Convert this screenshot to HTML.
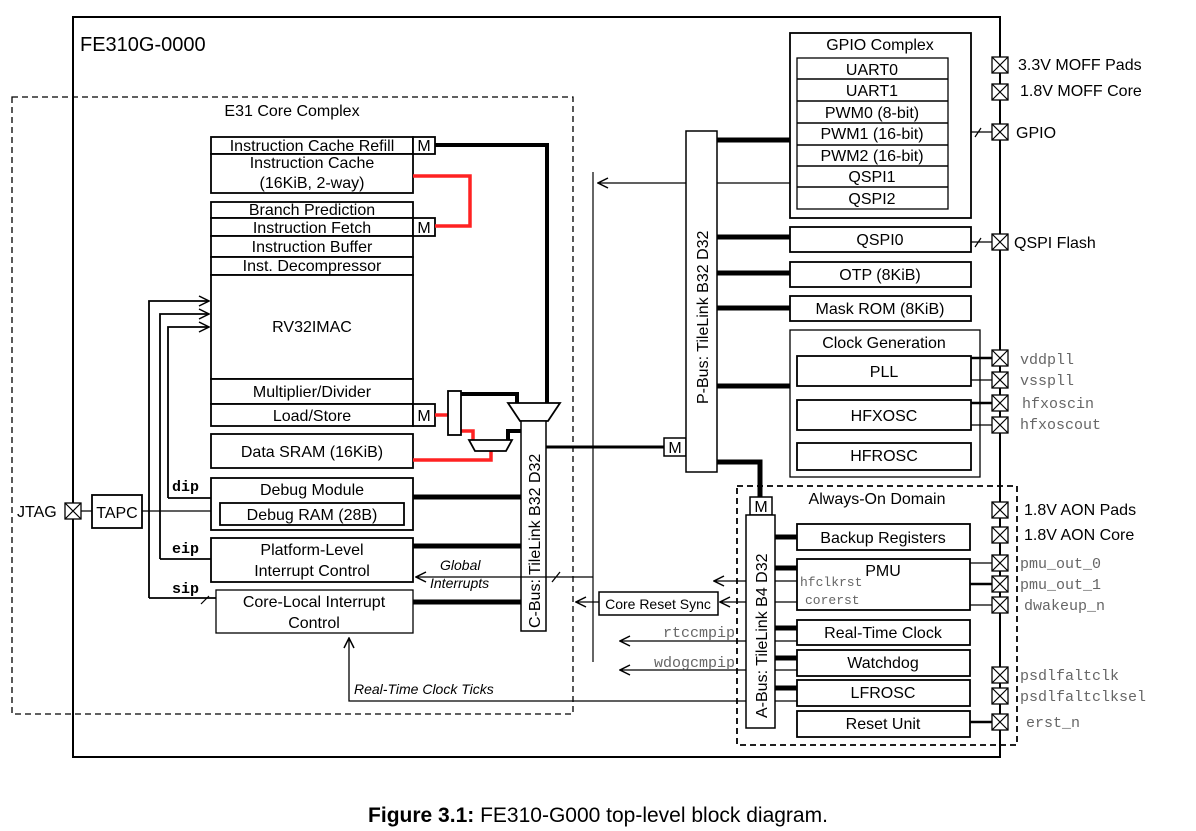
<!DOCTYPE html>
<html><head><meta charset="utf-8"><style>
html,body{margin:0;padding:0;background:#fff;}
svg{display:block;font-family:"Liberation Sans",sans-serif;}
.m{font-family:"Liberation Mono",monospace;fill:#666;}
</style></head><body>
<svg width="1196" height="831" viewBox="0 0 1196 831" xmlns="http://www.w3.org/2000/svg">
<defs>
<marker id="a" markerWidth="12" markerHeight="12" refX="11" refY="6" orient="auto" markerUnits="userSpaceOnUse">
<path d="M1,1 L11,6 L1,11" fill="none" stroke="#000" stroke-width="1.5"/></marker>
<g id="pad"><rect x="-8" y="-8" width="16" height="16" fill="#fff" stroke="#000" stroke-width="1.3"/><path d="M-8,-8L8,8M8,-8L-8,8" stroke="#000" stroke-width="1.2"/></g>
</defs>
<g fill="none" stroke="#000">
<rect x="73" y="17" width="927" height="740" stroke-width="2"/>
<rect x="12" y="97" width="561" height="617" stroke-dasharray="6,4" stroke-width="1.3"/>
<rect x="737" y="486" width="280" height="259" stroke-dasharray="6,4" stroke-width="1.8"/>
</g>
<text x="80" y="51" font-size="20">FE310G-0000</text>
<text x="292" y="116" font-size="16" text-anchor="middle">E31 Core Complex</text>

<g fill="#fff" stroke="#000" stroke-width="1.8">
<rect x="211" y="137" width="202" height="17"/><rect x="413" y="137" width="22" height="17"/>
<rect x="211" y="154" width="202" height="39"/>
<rect x="211" y="202" width="202" height="16"/>
<rect x="211" y="218" width="202" height="18"/><rect x="413" y="218" width="22" height="18"/>
<rect x="211" y="236" width="202" height="21"/>
<rect x="211" y="257" width="202" height="18"/>
<rect x="211" y="275" width="202" height="104"/>
<rect x="211" y="379" width="202" height="25"/>
<rect x="211" y="404" width="202" height="22"/><rect x="413" y="404" width="22" height="22"/>
<rect x="211" y="434" width="202" height="34"/>
<rect x="211" y="478" width="202" height="52"/>
<rect x="220" y="503" width="184" height="22"/>
<rect x="211" y="538" width="202" height="44"/>
<rect x="216" y="590" width="197" height="43" stroke-width="1.3"/>
</g>
<g font-size="16" text-anchor="middle">
<text x="312" y="151">Instruction Cache Refill</text><text x="424" y="151">M</text>
<text x="312" y="168">Instruction Cache</text><text x="312" y="188">(16KiB, 2-way)</text>
<text x="312" y="215">Branch Prediction</text>
<text x="312" y="233">Instruction Fetch</text><text x="424" y="233">M</text>
<text x="312" y="252">Instruction Buffer</text>
<text x="312" y="271">Inst. Decompressor</text>
<text x="312" y="332">RV32IMAC</text>
<text x="312" y="397">Multiplier/Divider</text>
<text x="312" y="421">Load/Store</text><text x="424" y="421">M</text>
<text x="312" y="457">Data SRAM (16KiB)</text>
<text x="312" y="495">Debug Module</text>
<text x="312" y="520">Debug RAM (28B)</text>
<text x="312" y="555">Platform-Level</text><text x="312" y="576">Interrupt Control</text>
<text x="314" y="607">Core-Local Interrupt</text><text x="314" y="628">Control</text>
</g>

<g fill="none" stroke="#f22" stroke-width="3.5">
<path d="M413,176 H470 V226 H435"/>
<path d="M435,415 H448"/>
<path d="M461,431 H473 V441"/>
<path d="M413,460 H491 V451"/>
</g>
<g fill="none" stroke="#000" stroke-width="4">
<path d="M435,145 H547 V404"/>
<path d="M461,394 H517 V404"/>
<path d="M508,440 V431 H522"/>
</g>
<rect x="448" y="391" width="13" height="44" fill="#fff" stroke="#000" stroke-width="1.8"/>
<path d="M508,403 H560 L548,421 H520 Z" fill="#fff" stroke="#000" stroke-width="1.8"/>
<path d="M469,440 H512 L506,451 H475 Z" fill="#fff" stroke="#000" stroke-width="1.8"/>

<rect x="521" y="421" width="25" height="210" fill="#fff" stroke="#000" stroke-width="1.5"/>
<text transform="translate(540,628) rotate(-90)" font-size="16">C-Bus:  TileLink B32 D32</text>
<g stroke="#000" stroke-width="5">
<path d="M413,497H521M413,546H521M413,602H521"/>
<path d="M546,447H664" stroke-width="3"/>
</g>
<rect x="664" y="438" width="22" height="18" fill="#fff" stroke="#000" stroke-width="1.5"/>
<text x="675" y="453" font-size="16" text-anchor="middle">M</text>

<g fill="none" stroke="#000" stroke-width="1.8">
<path d="M149,598 V301 H209" marker-end="url(#a)"/>
<path d="M160,559 V314 H209" marker-end="url(#a)"/>
<path d="M168,498 V327 H209" marker-end="url(#a)"/>
<path d="M149,598H216M160,559H211M168,498H211"/>
<path d="M201,604 l8,-8" stroke-width="1.2"/>
</g>
<g font-family="Liberation Mono,monospace" font-weight="bold" font-size="15">
<text x="172" y="491">dip</text><text x="172" y="553">eip</text><text x="172" y="593">sip</text>
</g>
<text x="17" y="517" font-size="16">JTAG</text>
<rect x="92" y="495" width="50" height="33" fill="#fff" stroke="#000" stroke-width="1.8"/>
<text x="117" y="518" font-size="16" text-anchor="middle">TAPC</text>
<path d="M142,511H211M81,511H92" stroke="#000" stroke-width="1.2"/>
<use href="#pad" x="73" y="511"/>

<path d="M593,172V662" stroke="#000" stroke-width="1.2"/>
<g fill="none" stroke="#000" stroke-width="1.3">
<path d="M790,183H598" marker-end="url(#a)"/>
<path d="M593,577H416" marker-end="url(#a)"/>
<path d="M552,582l8,-10"/>
<path d="M599,602H576" marker-end="url(#a)"/>
<path d="M797,602H720" marker-end="url(#a)"/>
<path d="M797,581H714" marker-end="url(#a)"/>
<path d="M797,641H620" marker-end="url(#a)"/>
<path d="M797,670H620" marker-end="url(#a)"/>
<path d="M797,701H349V638" marker-end="url(#a)"/>
</g>
<g font-size="14" font-style="italic">
<text x="440" y="570">Global</text><text x="430" y="588">Interrupts</text>
<text x="354" y="694">Real-Time Clock Ticks</text>
</g>
<rect x="599" y="592" width="119" height="23" fill="#fff" stroke="#000" stroke-width="1.5"/>
<text x="658" y="609" font-size="14" text-anchor="middle">Core Reset Sync</text>
<text x="735" y="637" class="m" font-size="15" text-anchor="end">rtccmpip</text>
<text x="735" y="667" class="m" font-size="15" text-anchor="end">wdogcmpip</text>

<rect x="686" y="131" width="31" height="341" fill="#fff" stroke="#000" stroke-width="1.5"/>
<text transform="translate(708,404) rotate(-90)" font-size="16">P-Bus:  TileLink B32 D32</text>
<g stroke="#000" stroke-width="5" fill="none">
<path d="M717,140H790M717,237H790M717,273H790M717,308H790M717,386H790"/>
<path d="M717,462H760V497"/>
</g>

<g fill="#fff" stroke="#000" stroke-width="1.8">
<rect x="790" y="33" width="181" height="185"/>
<rect x="797" y="58" width="151" height="151" stroke-width="1.3"/>
<rect x="790" y="227" width="181" height="25"/>
<rect x="790" y="262" width="181" height="25"/>
<rect x="790" y="296" width="181" height="25"/>
<rect x="790" y="330" width="190" height="147" stroke-width="1.3"/>
<rect x="797" y="356" width="174" height="30"/>
<rect x="797" y="400" width="174" height="30"/>
<rect x="797" y="443" width="174" height="27"/>
</g>
<path d="M797,79H948M797,101H948M797,123H948M797,145H948M797,166H948M797,187H948" stroke="#000" stroke-width="1.5"/>
<g font-size="16" text-anchor="middle">
<text x="880" y="50">GPIO Complex</text>
<text x="872" y="75">UART0</text><text x="872" y="96">UART1</text>
<text x="872" y="118">PWM0 (8-bit)</text><text x="872" y="139">PWM1 (16-bit)</text>
<text x="872" y="161">PWM2 (16-bit)</text><text x="872" y="182">QSPI1</text>
<text x="872" y="204">QSPI2</text>
<text x="880" y="245">QSPI0</text>
<text x="880" y="280">OTP (8KiB)</text>
<text x="880" y="314">Mask ROM (8KiB)</text>
<text x="884" y="348">Clock Generation</text>
<text x="884" y="377">PLL</text>
<text x="884" y="421">HFXOSC</text>
<text x="884" y="461">HFROSC</text>
</g>

<text x="877" y="504" font-size="16" text-anchor="middle">Always-On Domain</text>
<rect x="750" y="497" width="22" height="18" fill="#fff" stroke="#000" stroke-width="1.5"/>
<text x="761" y="512" font-size="16" text-anchor="middle">M</text>
<rect x="746" y="515" width="29" height="213" fill="#fff" stroke="#000" stroke-width="1.5"/>
<text transform="translate(767,718) rotate(-90)" font-size="16">A-Bus:  TileLink B4 D32</text>
<g stroke="#000" stroke-width="5"><path d="M775,537H797M775,568H797M775,628H797M775,658H797M775,688H797"/></g>
<g fill="#fff" stroke="#000" stroke-width="1.8">
<rect x="797" y="524" width="173" height="26"/>
<rect x="797" y="559" width="173" height="51"/>
<rect x="797" y="620" width="173" height="25"/>
<rect x="797" y="650" width="173" height="26"/>
<rect x="797" y="680" width="173" height="26"/>
<rect x="797" y="711" width="173" height="26"/>
</g>
<g font-size="16" text-anchor="middle">
<text x="883" y="543">Backup Registers</text>
<text x="883" y="576">PMU</text>
<text x="883" y="638">Real-Time Clock</text>
<text x="883" y="668">Watchdog</text>
<text x="883" y="698">LFROSC</text>
<text x="883" y="729">Reset Unit</text>
</g>
<text x="800" y="586" class="m" font-size="13">hfclkrst</text>
<text x="805" y="604" class="m" font-size="13">corerst</text>

<g stroke="#000" stroke-width="1.2" fill="none">
<path d="M971,132H992M975,137l6,-9"/>
<path d="M971,242H992M975,247l6,-9"/>
<path d="M971,380H992M971,425H992"/>
<path d="M970,563H992M970,605H992" />
</g>
<path d="M971,358H992M971,403H992M970,584H992M970,722H992" stroke="#000" stroke-width="2.5"/>
<g>
<use href="#pad" x="1000" y="65"/><use href="#pad" x="1000" y="92"/>
<use href="#pad" x="1000" y="132"/><use href="#pad" x="1000" y="242"/>
<use href="#pad" x="1000" y="358"/><use href="#pad" x="1000" y="380"/>
<use href="#pad" x="1000" y="403"/><use href="#pad" x="1000" y="425"/>
<use href="#pad" x="1000" y="510"/><use href="#pad" x="1000" y="535"/>
<use href="#pad" x="1000" y="563"/><use href="#pad" x="1000" y="584"/>
<use href="#pad" x="1000" y="605"/><use href="#pad" x="1000" y="675"/>
<use href="#pad" x="1000" y="696"/><use href="#pad" x="1000" y="722"/>
</g>
<g font-size="16">
<text x="1018" y="70">3.3V MOFF Pads</text>
<text x="1020" y="96">1.8V MOFF Core</text>
<text x="1016" y="138">GPIO</text>
<text x="1014" y="248">QSPI Flash</text>
<text x="1024" y="515">1.8V AON Pads</text>
<text x="1024" y="540">1.8V AON Core</text>
</g>
<g class="m" font-size="15">
<text x="1020" y="364">vddpll</text><text x="1020" y="385">vsspll</text>
<text x="1022" y="408">hfxoscin</text><text x="1020" y="429">hfxoscout</text>
<text x="1020" y="568">pmu_out_0</text><text x="1020" y="589">pmu_out_1</text>
<text x="1024" y="610">dwakeup_n</text>
<text x="1020" y="680">psdlfaltclk</text><text x="1020" y="701">psdlfaltclksel</text>
<text x="1026" y="727">erst_n</text>
</g>

<text x="598" y="822" font-size="21" text-anchor="middle"><tspan font-weight="bold">Figure 3.1:</tspan> FE310-G000 top-level block diagram.</text>
</svg>
</body></html>
